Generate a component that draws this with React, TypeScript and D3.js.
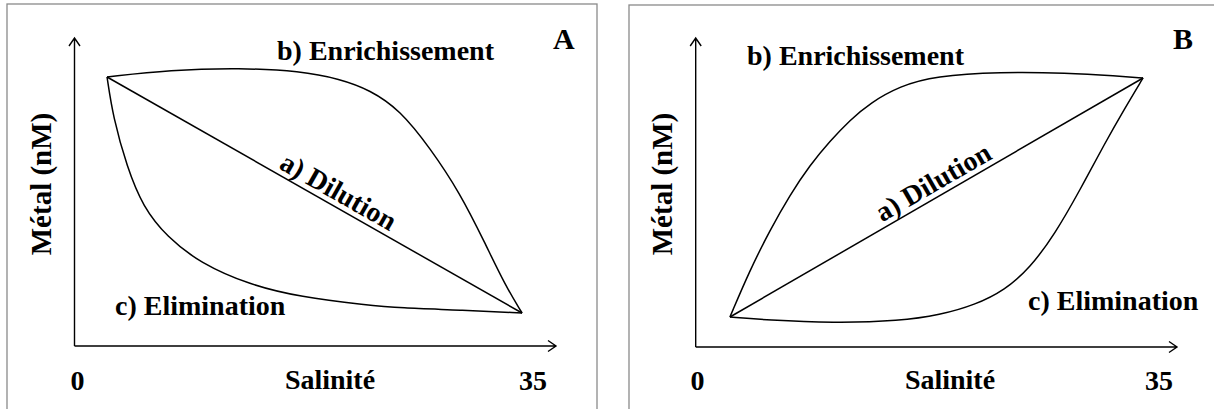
import * as d3 from "d3";

// Salinity (0-35) vs metal (arbitrary 0-100)
type Pt = [number, number];

const X_TICKS = [0, 35];

// Panel A: high-metal river end-member -> low-metal sea end-member
const A_DILUTION: Pt[] = [[2.27, 87.34], [34.16, 10.71]];
const A_ENRICH: Pt[] = [
  [2.27, 87.34], [7.11, 89.61], [12.49, 90.26], [17.1, 89.29], [20.17, 86.69],
  [22.48, 83.12], [24.78, 76.62], [27.09, 64.29], [29.39, 49.68], [31.31, 33.44],
  [32.85, 19.81], [34.16, 10.71],
];
const A_ELIM: Pt[] = [
  [2.27, 87.34], [2.73, 74.35], [3.8, 58.12], [5.03, 45.13], [6.88, 35.39],
  [9.41, 26.95], [13.25, 19.81], [17.1, 15.91], [22.24, 13.31], [24.78, 12.34],
  [29.39, 11.69], [34.16, 10.71],
];

// Panel B: low-metal river end-member -> high-metal sea end-member
const B_DILUTION: Pt[] = [[2.46, 9.71], [33.79, 87.06]];
const B_ENRICH: Pt[] = [
  [2.46, 9.71], [3.98, 24.92], [5.5, 37.86], [7.01, 49.19], [8.53, 58.9],
  [10.05, 66.67], [11.57, 73.46], [13.08, 78.96], [15.36, 84.47], [18.01, 87.7],
  [22.94, 89.0], [28.02, 88.67], [31.81, 87.7], [33.79, 87.06],
];
const B_ELIM: Pt[] = [
  [2.46, 9.71], [5.27, 8.74], [10.28, 7.77], [15.36, 8.41], [18.39, 10.36],
  [21.04, 13.59], [23.32, 18.45], [25.21, 25.57], [27.11, 36.57], [29.01, 50.81],
  [30.9, 66.02], [32.42, 77.35], [33.79, 87.06],
];

const PANELS = [
  {
    letter: "A", box: [7, 4, 597, 420], axisX: 74.5, axisY: 346, arrowX: 556,
    xRange: [77.5, 533], dilution: A_DILUTION, enrich: A_ENRICH, elim: A_ELIM,
    enrichLabel: [277, 60], elimLabel: [115, 315], letterPos: [553, 49],
    salX: 330, yLabelX: 51, dilT: 0.54,
  },
  {
    letter: "B", box: [629, 5, 1230, 420], axisX: 695.7, axisY: 347, arrowX: 1177,
    xRange: [697.5, 1159], dilution: B_DILUTION, enrich: B_ENRICH, elim: B_ELIM,
    enrichLabel: [747, 65], elimLabel: [1028, 310], letterPos: [1173, 49],
    salX: 950, yLabelX: 672, dilT: 0.51,
  },
];

const txtStyle = (size: number) => ({
  fontFamily: '"Liberation Serif"',
  fontWeight: "bold" as const,
  fontSize: `${size}px`,
});

function Panel({ p }: { p: (typeof PANELS)[number] }) {
  const x = d3.scaleLinear().domain([0, 35]).range(p.xRange);
  const y = d3.scaleLinear().domain([0, 100]).range([p.axisY, 38]);
  const line = d3.line<Pt>().x((d) => x(d[0])).y((d) => y(d[1])).curve(d3.curveBasis);
  const [bx0, by0, bx1, by1] = p.box;
  const top = y(100);

  // dilution label sits just above the straight line, rotated with it
  const [s0, s1] = p.dilution;
  const x0 = x(s0[0]), y0 = y(s0[1]), x1 = x(s1[0]), y1 = y(s1[1]);
  const th = Math.atan2(y1 - y0, x1 - x0);
  const off = 5.5;
  const cx = x0 + (x1 - x0) * p.dilT + Math.sin(th) * off;
  const cy = y0 + (y1 - y0) * p.dilT - Math.cos(th) * off;

  return (
    <g>
      <rect x={bx0} y={by0} width={bx1 - bx0} height={by1 - by0}
        fill="none" stroke="#8a8a8a" strokeWidth={1.3} />
      <path
        d={`M${p.axisX},${p.axisY}V${top}M${p.axisX - 5.5},${top + 8}L${p.axisX},${top}L${p.axisX + 5.5},${top + 8}`}
        fill="none" stroke="#000" strokeWidth={1.4} />
      <path
        d={`M${p.axisX},${p.axisY}H${p.arrowX}M${p.arrowX - 8},${p.axisY - 5.5}L${p.arrowX},${p.axisY}L${p.arrowX - 8},${p.axisY + 5.5}`}
        fill="none" stroke="#000" strokeWidth={1.4} />
      {[p.dilution, p.enrich, p.elim].map((data, i) => (
        <path key={i} d={line(data) ?? ""} fill="none" stroke="#000" strokeWidth={1.5} strokeLinejoin="round" />
      ))}
      <text x={p.enrichLabel[0]} y={p.enrichLabel[1]} style={txtStyle(28)}>b) Enrichissement</text>
      <text x={p.elimLabel[0]} y={p.elimLabel[1]} style={txtStyle(28)}>c) Elimination</text>
      <text x={p.letterPos[0]} y={p.letterPos[1]} style={txtStyle(30)}>{p.letter}</text>
      {X_TICKS.map((t) => (
        <text key={t} x={x(t)} y={390} textAnchor="middle" style={txtStyle(28)}>{t}</text>
      ))}
      <text x={p.salX} y={389} textAnchor="middle" style={txtStyle(28)}>Salinité</text>
      <text transform={`translate(${p.yLabelX},184) rotate(-90)`} textAnchor="middle" style={txtStyle(29)}>
        Métal (nM)
      </text>
      <text transform={`translate(${cx},${cy}) rotate(${(th * 180) / Math.PI})`} textAnchor="middle" style={txtStyle(28)}>
        a) Dilution
      </text>
    </g>
  );
}

export default function App() {
  return (
    <svg width={1214} height={409} style={{ position: "absolute", left: 0, top: 0, background: "#fff" }}>
      {PANELS.map((p) => <Panel key={p.letter} p={p} />)}
    </svg>
  );
}
